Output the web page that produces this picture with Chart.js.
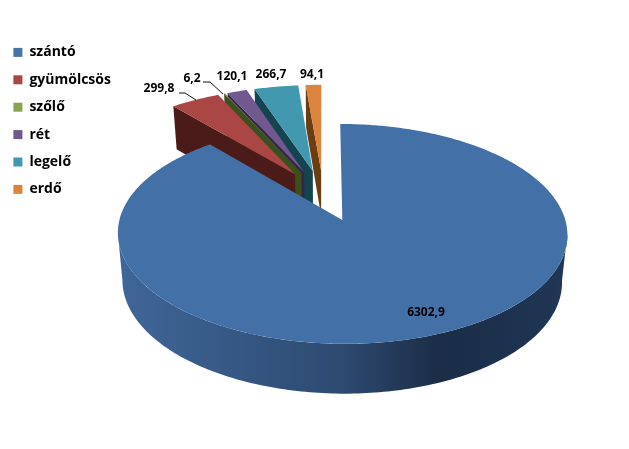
<!DOCTYPE html>
<html>
<head>
<meta charset="utf-8">
<style>
  body { margin: 0; background: #fff; }
</style>
<script src="https://cdn.jsdelivr.net/npm/chart.js@4"></script>
</head>
<body>
<canvas id="chart1" width="629" height="449"></canvas>
<script>
const categories = ['szántó', 'gyümölcsös', 'szőlő', 'rét', 'legelő', 'erdő'];
const values = [6302.9, 299.8, 6.2, 120.1, 266.7, 94.1];
const topColors = ['#4470a8', '#aa4643', '#6f8a3c', '#71588f', '#4198af', '#db843d'];
const legendColors = ['#4572a7', '#aa4643', '#89a54e', '#71588f', '#4198af', '#db843d'];
const wallColors = ['#2e4c73', '#4a1b19', '#3c4f1c', '#33254a', '#164350', '#6a3d12'];

// where the value texts sit
const labelSpots = [[426, 313], [159, 89], [192, 79], [232, 77], [271, 75], [312, 75]];
// leader lines for the two crowded labels
const leaders = [
  [[179, 93], [185, 93], [196, 100]],
  [[203, 82], [210, 82], [223, 94]]
];

// perspective of the tilted disc, fitted by eye on the picture
const X0 = 323.3, Y0 = 195.3, A = 216.5, B = 102, K = 0.123;
const explosion = 0.25;

function topPt(u, v) {
  const s = 1 / (1 - K * v);
  return { x: X0 + A * u * s, y: Y0 + B * v * s };
}
function bottomPt(u, v) {
  const s = 0.978 / (1 - K * v);
  return { x: X0 + A * u * s, y: topPt(u, v).y + 46 + 3.1 * v };
}

function polygon(ctx, pts, fill) {
  ctx.beginPath();
  pts.forEach(function (p, i) {
    if (i == 0) ctx.moveTo(p.x, p.y);
    else ctx.lineTo(p.x, p.y);
  });
  ctx.closePath();
  ctx.fillStyle = fill;
  ctx.fill();
}

const pie3d = {
  id: 'pie3d',
  beforeDatasetDraw(chart) {
    const ctx = chart.ctx;
    const arcs = chart.getDatasetMeta(0).data;

    // back slices first, the big one last
    for (let i = arcs.length - 1; i >= 0; i--) {
      const a0 = arcs[i].startAngle, a1 = arcs[i].endAngle;
      const mid = (a0 + a1) / 2;
      const cu = explosion * Math.cos(mid), cv = explosion * Math.sin(mid);
      const rim = function (a) { return [cu + Math.cos(a), cv + Math.sin(a)]; };

      if (i == 0) {
        // outer wall of the big slice, between the two side tangents
        const wallTop = [], wallBottom = [];
        for (let d = 7; d <= 173; d++) {
          const r = rim(d * Math.PI / 180);
          wallTop.push(topPt(r[0], r[1]));
          wallBottom.unshift(bottomPt(r[0], r[1]));
        }
        const g = ctx.createLinearGradient(122, 0, 563, 0);
        g.addColorStop(0, '#3f6698');
        g.addColorStop(0.5, '#2d4a70');
        g.addColorStop(0.72, '#1b2d47');
        g.addColorStop(1, '#1f3654');
        polygon(ctx, wallTop.concat(wallBottom), g);
      } else {
        // radial wall on the left of each small slice
        const r = rim(a0);
        polygon(ctx, [topPt(cu, cv), topPt(r[0], r[1]), bottomPt(r[0], r[1]), bottomPt(cu, cv)], wallColors[i]);
      }

      const face = [topPt(cu, cv)];
      const steps = Math.max(2, Math.ceil((a1 - a0) * 90));
      for (let s = 0; s <= steps; s++) {
        const r = rim(a0 + (a1 - a0) * s / steps);
        face.push(topPt(r[0], r[1]));
      }
      polygon(ctx, face, topColors[i]);
    }
    return false;
  },
  afterDatasetsDraw(chart) {
    const ctx = chart.ctx;
    ctx.save();
    ctx.strokeStyle = '#111';
    ctx.lineWidth = 1;
    leaders.forEach(function (line) {
      ctx.beginPath();
      line.forEach(function (p, i) {
        if (i == 0) ctx.moveTo(p[0], p[1]);
        else ctx.lineTo(p[0], p[1]);
      });
      ctx.stroke();
    });
    ctx.fillStyle = '#000';
    ctx.font = 'bold 12px "Open Sans"';
    ctx.textAlign = 'center';
    ctx.textBaseline = 'middle';
    values.forEach(function (v, i) {
      ctx.fillText(v.toFixed(1).replace('.', ','), labelSpots[i][0], labelSpots[i][1]);
    });
    ctx.restore();
  }
};

const myChart = new Chart(document.getElementById('chart1'), {
  type: 'pie',
  data: {
    labels: categories,
    datasets: [{
      data: values,
      backgroundColor: legendColors,
      borderWidth: 0
    }]
  },
  options: {
    responsive: false,
    animation: false,
    layout: { padding: { top: 32 } },
    plugins: {
      tooltip: { enabled: false },
      legend: {
        position: 'left',
        align: 'start',
        labels: {
          boxWidth: 9,
          boxHeight: 9,
          padding: 13.4,
          color: '#000',
          font: { family: '"Open Sans"', size: 14, weight: 'bold' }
        }
      }
    }
  },
  plugins: [pie3d]
});
</script>
</body>
</html>
